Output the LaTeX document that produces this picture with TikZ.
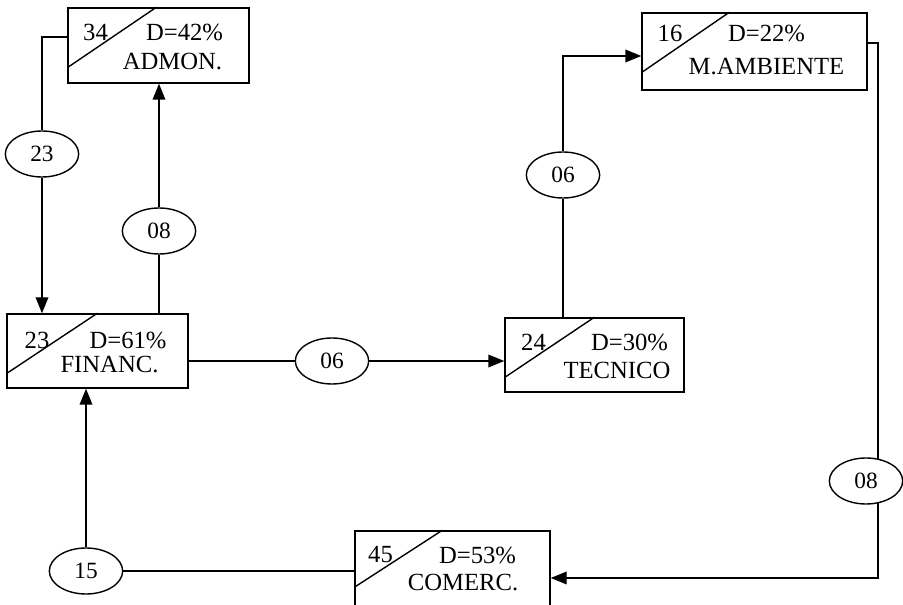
\documentclass[tikz,border=0pt]{standalone}
\usepackage{fontspec}
\setmainfont{Liberation Serif}
\usetikzlibrary{arrows.meta, shapes.geometric}

\begin{document}
\begin{tikzpicture}[
    x=0.75pt,
    y=-0.75pt,
    line width=1.05pt,
    dept/.style={
        rectangle,
        draw,
        minimum height=55.5pt,
        inner sep=0pt
    },
    flow/.style={
        ellipse,
        draw,
        minimum width=55pt,
        minimum height=34.5pt,
        inner sep=0pt,
        font=\fontsize{17.5}{17.5}\selectfont
    },
    lbl/.style={
        inner sep=0pt,
        font=\fontsize{18.5}{18.5}\selectfont
    },
    >={Triangle[length=12pt,width=9.5pt]}
]
\useasboundingbox (0,0) rectangle (903,605);

% departamentos
\node[dept, minimum width=135.75pt, minimum height=56.25pt] (admon) at (158.5,45.5) {};
\node[dept, minimum width=135.75pt] (financ) at (97.5,351) {};
\node[dept, minimum width=134.25pt] (tecnico) at (594.5,355) {};
\node[dept, minimum width=168.75pt, minimum height=57.75pt] (mamb) at (754.5,51.5) {};
\node[dept, minimum width=146.25pt, minimum height=59.25pt] (comerc) at (452.5,570.5) {};

% diagonales
\draw ([shift={(0,-16)}]admon.south west) -- ([shift={(89,0)}]admon.north west);
\draw ([shift={(0,-15)}]financ.south west) -- ([shift={(91,0)}]financ.north west);
\draw ([shift={(0,-15)}]tecnico.south west) -- ([shift={(90,0)}]tecnico.north west);
\draw ([shift={(0,-18)}]mamb.south west) -- ([shift={(88,0)}]mamb.north west);
\draw ([shift={(0,57)}]comerc.north west) -- ([shift={(88,0)}]comerc.north west);

% textos
\node[lbl] (admonnum) at (95.5,32) {34};
\node[lbl] (admonpct) at (184.5,32) {D=42\%};
\node[lbl] (admonname) at (172.5,62) {ADMON.};
\node[lbl] (financnum) at (37,340) {23};
\node[lbl] (financpct) at (128,340) {D=61\%};
\node[lbl] (financname) at (109.5,365) {FINANC.};
\node[lbl] (tecniconum) at (533.5,342) {24};
\node[lbl] (tecnicopct) at (629.5,342) {D=30\%};
\node[lbl] (tecniconame) at (617,370) {TECNICO};
\node[lbl] (mambnum) at (670,33) {16};
\node[lbl] (mambpct) at (766.5,33) {D=22\%};
\node[lbl] (mambname) at (766.5,67) {M.AMBIENTE};
\node[lbl] (comercnum) at (380.5,555) {45};
\node[lbl] (comercpct) at (477.5,555) {D=53\%};
\node[lbl] (comercname) at (463,583) {COMERC.};

% flujos
\node[flow] (e23) at (42,154) {23};
\node[flow] (e08a) at (159,231) {08};
\node[flow] (e06a) at (332,361) {06};
\node[flow] (e06b) at (563,175) {06};
\node[flow] (e08b) at (866,481) {08};
\node[flow] (e15) at (86,571) {15};

\draw (admon.west |- 0,37) -| (e23);
\draw[->] (e23) -- (e23 |- financ.north);
\draw (financ.north -| e08a) -- (e08a);
\draw[->] (e08a) -- (e08a |- admon.south);
\draw (financ.east |- e06a) -- (e06a);
\draw[->] (e06a) -- (e06a -| tecnico.west);
\draw (tecnico.north -| e06b) -- (e06b);
\draw[->] (e06b) |- (mamb.west |- 0,56);
\draw (mamb.east |- 0,43) -| (e08b.62);
\draw[->] (e08b.-62) |- (comerc.east |- 0,578);
\draw (comerc.west |- e15) -- (e15);
\draw[->] (e15) -- (e15 |- financ.south);

\end{tikzpicture}
\end{document}
